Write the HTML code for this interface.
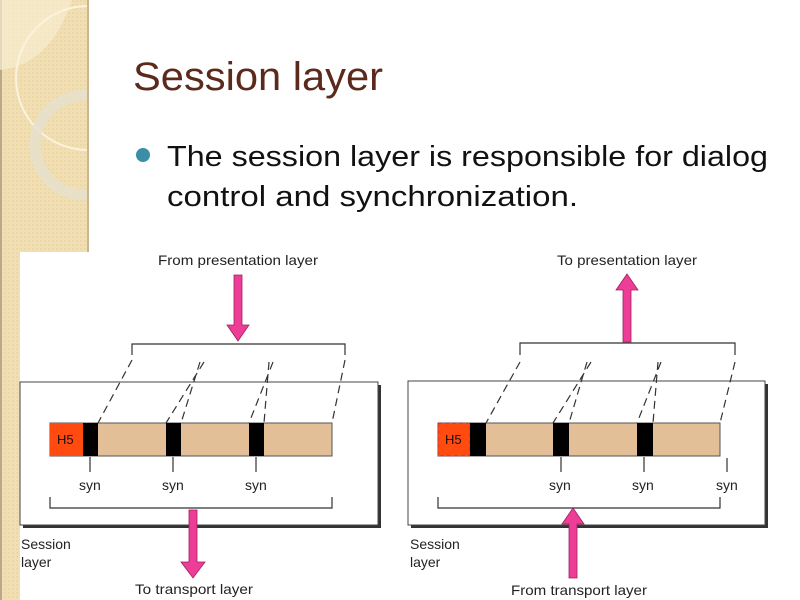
<!DOCTYPE html>
<html><head><meta charset="utf-8"><style>
html,body{margin:0;padding:0;width:800px;height:600px;overflow:hidden;background:#fff;font-family:"Liberation Sans",sans-serif}
</style></head><body>
<svg width="800" height="600" viewBox="0 0 800 600" xmlns="http://www.w3.org/2000/svg">
<defs>
<pattern id="pt" width="4" height="4" patternUnits="userSpaceOnUse"><rect width="4" height="4" fill="#f1dfb3"/><rect width="2" height="2" fill="#ecd7a6"/></pattern>
<clipPath id="cp"><rect x="0" y="0" width="88" height="252"/></clipPath>
</defs>
<rect x="0" y="0" width="88" height="252" fill="url(#pt)"/>
<rect x="0" y="0" width="20" height="600" fill="url(#pt)"/>
<rect x="0" y="0" width="2" height="600" fill="#b9a98a"/>
<g clip-path="url(#cp)">
<path d="M0 70 Q50 65 72 0 L0 0Z" fill="#f6ecd2" opacity="0.7"/>
<circle cx="88" cy="78" r="72" fill="none" stroke="#fbf3dc" stroke-width="2"/>
<circle cx="85" cy="145" r="50" fill="none" stroke="#e8e0cc" stroke-width="11" opacity="0.85"/>
</g>
<rect x="20" y="252" width="68" height="348" fill="#fff"/>
<rect x="87" y="0" width="2" height="252" fill="#c7b58f"/>
<text x="133" y="90" font-size="40" fill="#5b2a1c" textLength="250" lengthAdjust="spacingAndGlyphs">Session layer</text>
<circle cx="143" cy="155" r="7" fill="#3a8fa6"/>
<text x="167" y="166" font-size="29" fill="#111" textLength="601" lengthAdjust="spacingAndGlyphs">The session layer is responsible for dialog</text>
<text x="167" y="206" font-size="29" fill="#111" textLength="411" lengthAdjust="spacingAndGlyphs">control and synchronization.</text>

<g font-size="14" fill="#222">
<!-- left -->
<rect x="23" y="385" width="358" height="143" fill="#333"/>
<rect x="20" y="382" width="358" height="143" fill="#fff" stroke="#444" stroke-width="1"/>
<rect x="50" y="423" width="282" height="33" fill="#e3bf98" stroke="#555"/>
<rect x="50" y="423" width="33" height="33" fill="#ff4a10"/>
<text x="57" y="444" font-size="13" fill="#111">H5</text>
<rect x="83" y="423" width="15" height="33" fill="#000"/>
<rect x="166" y="423" width="15" height="33" fill="#000"/>
<rect x="249" y="423" width="15" height="33" fill="#000"/>
<g stroke="#333" stroke-width="1.2" fill="none">
<path d="M90 457V472M173 457V472M256 457V472"/>
<path d="M50 497V508H332V497"/>
<path d="M132 355V344H345V355"/>
<g stroke-dasharray="8,5"><path d="M132 360L98 423M204 362L166 423M200 362L181 423M273 362L249 423M269 362L264 423M345 360L332 423"/></g>
</g>
<text x="79" y="490">syn</text><text x="162" y="490">syn</text><text x="245" y="490">syn</text>
<text x="158" y="265" textLength="160" lengthAdjust="spacingAndGlyphs">From presentation layer</text>
<path d="M234 275H242V325H249L238 341L227 325H234Z" fill="#ee3d96" stroke="#a0205f" stroke-width="0.8"/>
<path d="M189 510H197V562H205L193 578L181 562H189Z" fill="#ee3d96" stroke="#a0205f" stroke-width="0.8"/>
<text x="135" y="594" textLength="118" lengthAdjust="spacingAndGlyphs">To transport layer</text>
<text x="21" y="549">Session</text><text x="21" y="567">layer</text>
<!-- right -->
<rect x="411" y="384" width="357" height="144" fill="#333"/>
<rect x="408" y="381" width="357" height="144" fill="#fff" stroke="#444" stroke-width="1"/>
<rect x="438" y="423" width="282" height="33" fill="#e3bf98" stroke="#555"/>
<rect x="438" y="423" width="32" height="33" fill="#ff4a10" stroke="#a33" stroke-dasharray="4,3"/>
<text x="445" y="444" font-size="13" fill="#111">H5</text>
<rect x="470" y="423" width="16" height="33" fill="#000"/>
<rect x="553" y="423" width="16" height="33" fill="#000"/>
<rect x="637" y="423" width="16" height="33" fill="#000"/>
<g stroke="#333" stroke-width="1.2" fill="none">
<path d="M561 457V472M644 457V472M727 458V472"/>
<path d="M438 497V508H720V497"/>
<path d="M520 355V343H735V355"/>
<g stroke-dasharray="8,5"><path d="M520 362L486 423M591 362L553 423M587 362L569 423M661 362L637 423M658 362L653 423M735 362L720 423"/></g>
</g>
<text x="549" y="490">syn</text><text x="632" y="490">syn</text><text x="716" y="490">syn</text>
<text x="557" y="265" textLength="140" lengthAdjust="spacingAndGlyphs">To presentation layer</text>
<path d="M623 342H631V290H638L627 274L616 290H623Z" fill="#ee3d96" stroke="#a0205f" stroke-width="0.8"/>
<path d="M569 578H577V524H584L573 508L562 524H569Z" fill="#ee3d96" stroke="#a0205f" stroke-width="0.8"/>
<text x="511" y="595" textLength="136" lengthAdjust="spacingAndGlyphs">From transport layer</text>
<text x="410" y="549">Session</text><text x="410" y="567">layer</text>
</g>
</svg>
</body></html>
